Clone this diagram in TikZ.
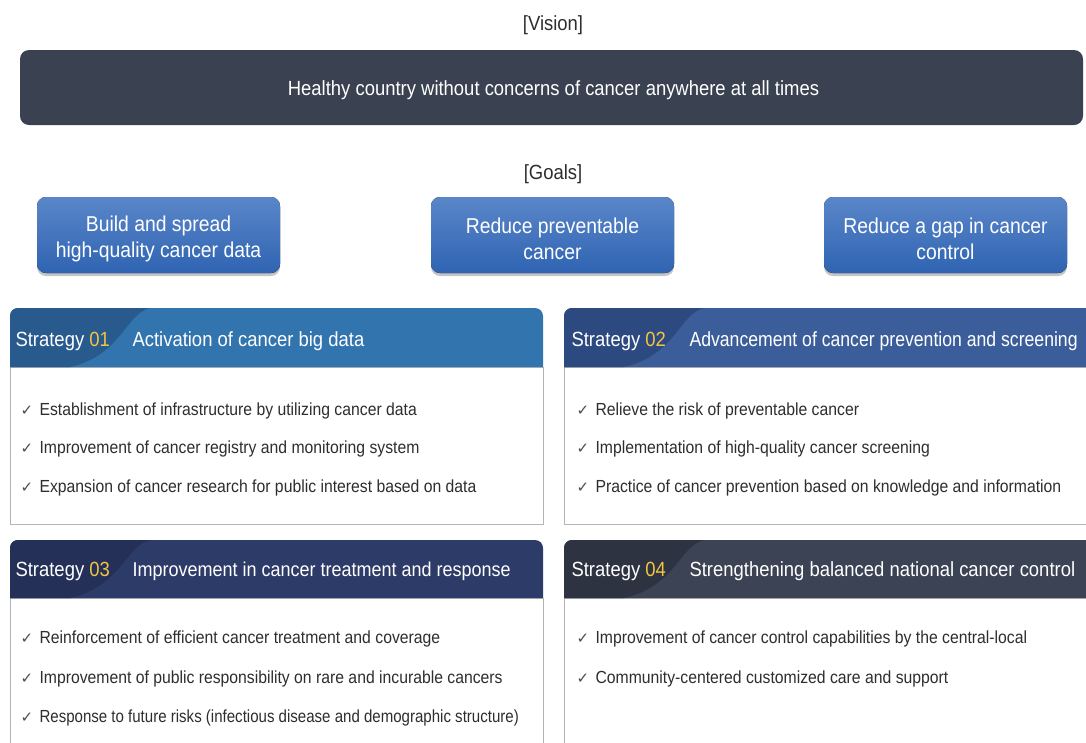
\documentclass[tikz,border=0pt]{standalone}
\usepackage{fontspec}
\setmainfont[FakeStretch=0.9]{Liberation Sans}
\newfontfamily\narrowfont[FakeStretch=0.86]{Liberation Sans}
\newfontfamily\chkfont{DejaVu Sans}
\usetikzlibrary{shadows}
\definecolor{visbg}{HTML}{3A4150}
\definecolor{goaltop}{HTML}{5A86C9}
\definecolor{goalbot}{HTML}{2F64B2}
\definecolor{hA}{HTML}{3274AE}\definecolor{dA}{HTML}{285A8E}
\definecolor{hB}{HTML}{3B5E9A}\definecolor{dB}{HTML}{2D4A80}
\definecolor{hC}{HTML}{2D3B68}\definecolor{dC}{HTML}{243058}
\definecolor{hD}{HTML}{3B4354}\definecolor{dD}{HTML}{2D3341}
\definecolor{numcol}{HTML}{F2C443}
\definecolor{bodytxt}{HTML}{2E2E2E}
\definecolor{frame}{HTML}{B4B4B4}
\tikzset{
  lbl/.style={font=\fontsize{20.5}{24}\selectfont, text=bodytxt},
  visbox/.style={fill=visbg, rounded corners=9},
  goalbox/.style={rounded corners=9, top color=goaltop, bottom color=goalbot, drop shadow={opacity=0.45, shadow xshift=0pt, shadow yshift=-3pt}},
  goaltxt/.style={text=white, align=center, font=\fontsize{21.5}{26}\selectfont},
  hdrtxt/.style={anchor=west, text=white, font=\fontsize{20.5}{24}\selectfont},
  item/.style={anchor=west, text=bodytxt, font=\fontsize{17.5}{21}\selectfont},
  chk/.style={anchor=west, text=bodytxt!85, font=\chkfont\fontsize{15}{16}\selectfont},
  bodyframe/.style={draw=frame, line width=0.8pt, fill=white},
}
\newcommand{\num}[1]{\textcolor{numcol}{#1}}
\newcommand{\strathdr}[5]{% x0,x1,ytop,ybot,colors suffix
  \fill[h#5] (#1,#4) [rounded corners=8] -- (#1,#3) -- (#2,#3) [sharp corners] -- (#2,#4) -- cycle;
  \fill[d#5] (#1,#4) [rounded corners=8] -- (#1,#3) [sharp corners] -- ({#1+140},#3) .. controls ({#1+115},{#3+6}) and ({#1+112},{#4-12}) .. ({#1+60},#4) -- cycle;
}
\begin{document}
\begin{tikzpicture}[x=1pt,y=-1pt]
\useasboundingbox[fill=white] (0,0) rectangle (1086,742);
\clip (0,0) rectangle (1086,742);
% Vision
\node[lbl] (vislbl) at (553,25) {[Vision]};
\fill[visbox] (20,50) rectangle (1083,125);
\node[text=white, font=\fontsize{20.5}{24}\selectfont] (vistxt) at (553.5,90) {Healthy country without concerns of cancer anywhere at all times};
% Goals
\node[lbl] (goallbl) at (553,174) {[Goals]};
\fill[goalbox] (37,197) rectangle (280,273);
\fill[goalbox] (431,197) rectangle (674,273);
\fill[goalbox] (824,197) rectangle (1067,273);
\node[goaltxt] (g1) at (158.5,239) {Build and spread\\high-quality cancer data};
\node[goaltxt] (g2) at (552.5,239) {Reduce preventable\\cancer};
\node[goaltxt] (g3) at (945.5,239) {Reduce a gap in cancer\\control};
% Strategy 01
\fill[bodyframe] (10,367) rectangle (543,524);
\strathdr{10}{543}{308}{367}{A}
\node[hdrtxt] (s1) at (12,341) {Strategy \num{01}};
\node[hdrtxt] (t1) at (129,341) {Activation of cancer big data};
\node[chk] (c11) at (17,411) {✓}; \node[item] (i11) at (36,411) {Establishment of infrastructure by utilizing cancer data};
\node[chk] (c12) at (17,449) {✓}; \node[item] (i12) at (36,449) {Improvement of cancer registry and monitoring system};
\node[chk] (c13) at (17,488) {✓}; \node[item] (i13) at (36,488) {Expansion of cancer research for public interest based on data};
% Strategy 02
\fill[bodyframe] (564,367) rectangle (1100,524);
\strathdr{564}{1100}{308}{367}{B}
\node[hdrtxt] (s2) at (568,341) {Strategy \num{02}};
\node[hdrtxt, font=\narrowfont\fontsize{20.5}{24}\selectfont] (t2) at (686,341) {Advancement of cancer prevention and screening};
\node[chk] (c21) at (573,411) {✓}; \node[item] (i21) at (592,411) {Relieve the risk of preventable cancer};
\node[chk] (c22) at (573,449) {✓}; \node[item] (i22) at (592,449) {Implementation of high-quality cancer screening};
\node[chk] (c23) at (573,488) {✓}; \node[item] (i23) at (592,488) {Practice of cancer prevention based on knowledge and information};
% Strategy 03
\fill[bodyframe] (10,598) rectangle (543,760);
\strathdr{10}{543}{540}{598}{C}
\node[hdrtxt] (s3) at (12,571) {Strategy \num{03}};
\node[hdrtxt, font=\fontsize{20}{24}\selectfont] (t3) at (129,571) {Improvement in cancer treatment and response};
\node[chk] (c31) at (17,639) {✓}; \node[item] (i31) at (36,639) {Reinforcement of efficient cancer treatment and coverage};
\node[chk] (c32) at (17,679) {✓}; \node[item] (i32) at (36,679) {Improvement of public responsibility on rare and incurable cancers};
\node[chk] (c33) at (17,718) {✓}; \node[item, font=\narrowfont\fontsize{17.5}{21}\selectfont] (i33) at (36,718) {Response to future risks (infectious disease and demographic structure)};
% Strategy 04
\fill[bodyframe] (564,598) rectangle (1100,760);
\strathdr{564}{1100}{540}{598}{D}
\node[hdrtxt] (s4) at (568,571) {Strategy \num{04}};
\node[hdrtxt] (t4) at (686,571) {Strengthening balanced national cancer control};
\node[chk] (c41) at (573,639) {✓}; \node[item] (i41) at (592,639) {Improvement of cancer control capabilities by the central-local};
\node[chk] (c42) at (573,679) {✓}; \node[item] (i42) at (592,679) {Community-centered customized care and support};
\end{tikzpicture}
\end{document}
